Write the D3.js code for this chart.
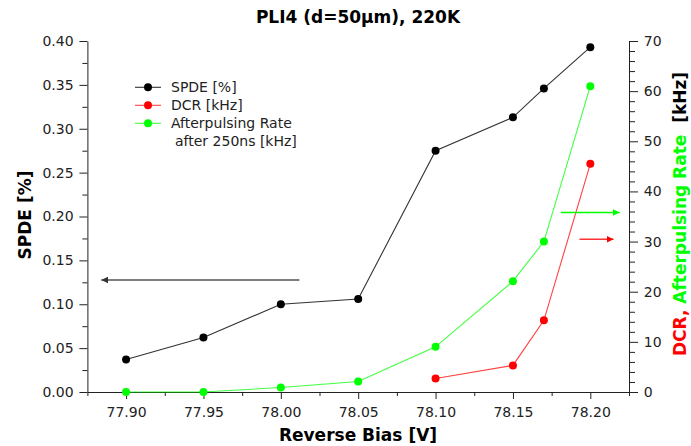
<!DOCTYPE html>
<html><head><meta charset="utf-8">
<script src="https://cdn.jsdelivr.net/npm/d3@7"></script>
<style>body{margin:0;background:#fff;} svg{display:block;font-family:"DejaVu Sans",sans-serif;}</style>
</head><body><svg id="c" width="691" height="446"></svg>
<script>
const bias = [77.90, 77.95, 78.00, 78.05, 78.10, 78.15, 78.17, 78.20];
const spde = [0.037, 0.062, 0.100, 0.106, 0.275, 0.313, 0.346, 0.393];
const apRate = [0, 0, 0.9, 2.1, 9.0, 22.1, 30.0, 61.0];
const dcrBias = [78.10, 78.15, 78.17, 78.20];
const dcr = [2.7, 5.3, 14.3, 45.5];
const xTicks = [77.90, 77.95, 78.00, 78.05, 78.10, 78.15, 78.20];
const yLeftTicks = [0, 0.05, 0.10, 0.15, 0.20, 0.25, 0.30, 0.35, 0.40];
const yRightTicks = [0, 10, 20, 30, 40, 50, 60, 70];
// annotation arrows [x1, x2, y] in data units
const arrowSpde = [78.012, 77.884, 0.1276];
const arrowAp = [78.181, 78.219, 35.8];
const arrowDcr = [78.193, 78.215, 30.45];

const svg = d3.select("#c");
const L = 87.4, R = 629, T = 41, B = 392;
const x = d3.scaleLinear().domain([77.875, 78.225]).range([L, R]);
const yL = d3.scaleLinear().domain([0, 0.4]).range([B, T]);
const yR = d3.scaleLinear().domain([0, 70]).range([B, T]);

const defs = svg.append("defs");
function marker(id, color){
  defs.append("marker").attr("id", id).attr("viewBox","0 0 10 10").attr("refX",10).attr("refY",5)
    .attr("markerWidth",7).attr("markerHeight",7).attr("markerUnits","userSpaceOnUse").attr("orient","auto")
    .append("path").attr("d","M0,0L10,5L0,10z").attr("fill",color);
}
marker("mk","#333"); marker("mg","#00ff00"); marker("mr","#ff0000");

// axes
const fs = 14;
const gx = svg.append("g").attr("transform",`translate(0,${B})`)
  .call(d3.axisBottom(x).tickValues(xTicks).tickFormat(d3.format(".2f")).tickSize(7).tickSizeOuter(0));
const gxm = svg.append("g").attr("transform",`translate(0,${B})`)
  .call(d3.axisBottom(x).tickValues(d3.range(77.875, 78.23, 0.05)).tickFormat("").tickSize(4).tickSizeOuter(0));
gxm.select(".domain").remove();
const gl = svg.append("g").attr("transform",`translate(${L},0)`)
  .call(d3.axisLeft(yL).tickValues(yLeftTicks).tickFormat(d3.format(".2f")).tickSize(8).tickSizeOuter(0));
const glm = svg.append("g").attr("transform",`translate(${L},0)`)
  .call(d3.axisLeft(yL).tickValues(d3.range(0.025, 0.4, 0.05)).tickFormat("").tickSize(5).tickSizeOuter(0));
glm.select(".domain").remove();
const gr = svg.append("g").attr("transform",`translate(${R},0)`)
  .call(d3.axisRight(yR).tickValues(yRightTicks).tickFormat(d3.format("d")).tickSize(9).tickSizeOuter(0));
const grm = svg.append("g").attr("transform",`translate(${R},0)`)
  .call(d3.axisRight(yR).tickValues(d3.range(2, 70, 2).filter(v=>v%10!==0)).tickFormat("").tickSize(6).tickSizeOuter(0));
grm.select(".domain").remove();
svg.selectAll(".tick text").attr("font-size",fs).attr("font-family","DejaVu Sans").attr("fill","#222");
svg.selectAll(".domain,.tick line").attr("stroke","#222");
gx.selectAll(".tick text").attr("dy","1.05em");
gl.selectAll(".tick text").attr("dx","-0.2em");
gr.selectAll(".tick text").attr("dx","0.2em");

// lines
const pts = (xs, ys, sy) => xs.map((v,i)=>[x(v), sy(ys[i])]);
const line = d3.line();
const series = [
  {p: pts(bias, apRate, yR), c:"#00ff00"},
  {p: pts(dcrBias, dcr, yR), c:"#ff0000"},
  {p: pts(bias, spde, yL), c:"#000000", lc:"#333"}
];
series.forEach(s=>{
  svg.append("path").attr("d", line(s.p)).attr("fill","none").attr("stroke", s.lc||s.c).attr("stroke-width",1.1).attr("stroke-opacity", s.lc?1:0.75);
  svg.append("g").selectAll("circle").data(s.p).join("circle")
    .attr("cx",d=>d[0]).attr("cy",d=>d[1]).attr("r",4).attr("fill",s.c);
});

// arrows
function arrow(a, sy, color, mk){
  svg.append("line").attr("x1",x(a[0])).attr("x2",x(a[1])).attr("y1",sy(a[2])).attr("y2",sy(a[2]))
    .attr("stroke",color).attr("stroke-width",1.5).attr("marker-end",`url(#${mk})`);
}
arrow(arrowSpde, yL, "#555", "mk");
arrow(arrowAp, yR, "#00ff00", "mg");
arrow(arrowDcr, yR, "#ff3333", "mr");

// legend
const leg = [{t:"SPDE [%]", c:"#000", lc:"#333"},{t:"DCR [kHz]", c:"#ff0000"},{t:"Afterpulsing Rate", c:"#00ff00"}];
leg.forEach((d,i)=>{
  const yy = 87.3 + i*18;
  svg.append("line").attr("x1",135).attr("x2",161).attr("y1",yy).attr("y2",yy).attr("stroke",d.lc||d.c).attr("stroke-width",1.1).attr("stroke-opacity", d.lc?1:0.75);
  svg.append("circle").attr("cx",148).attr("cy",yy).attr("r",4).attr("fill",d.c);
  svg.append("text").attr("x",171).attr("y",yy+5).attr("font-size",fs).attr("fill","#222").text(d.t);
});
svg.append("text").attr("x",175).attr("y",87.3+3*18+5).attr("font-size",fs).attr("fill","#222").text("after 250ns [kHz]");

// titles
svg.append("text").attr("x",358).attr("y",23).attr("text-anchor","middle").attr("font-weight","bold").attr("font-size",17).text("PLI4 (d=50µm), 220K");
svg.append("text").attr("x",358).attr("y",441).attr("text-anchor","middle").attr("font-weight","bold").attr("font-size",17).text("Reverse Bias [V]");
svg.append("text").attr("transform","translate(31,215) rotate(-90)").attr("text-anchor","middle").attr("font-weight","bold").attr("font-size",17).text("SPDE [%]");
const rt = svg.append("text").attr("transform","translate(686,214) rotate(-90)").attr("text-anchor","middle").attr("font-weight","bold").attr("font-size",17).attr("xml:space","preserve");
rt.append("tspan").attr("fill","#ff0000").text("DCR, ");
rt.append("tspan").attr("fill","#00ff00").text("Afterpulsing Rate  ");
rt.append("tspan").attr("fill","#000").text("[kHz]");
</script></body></html>
